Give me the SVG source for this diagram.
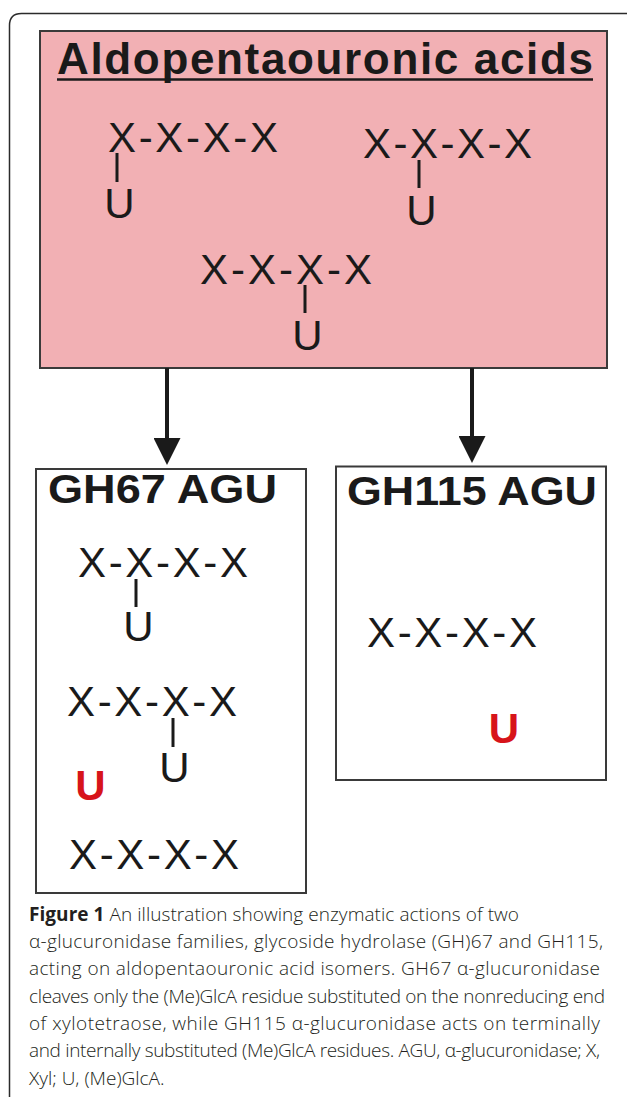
<svg xmlns="http://www.w3.org/2000/svg" width="627" height="1097" viewBox="0 0 627 1097">
  <style>
    .frame { fill: none; stroke: #2b2b2b; stroke-width: 1.5; }
    .box { fill: #ffffff; stroke: #3a3a3a; stroke-width: 2; }
    .pink { fill: #f2b0b4; stroke: #3a3a3a; stroke-width: 2; }
    .title { font-family: "Liberation Sans", Arial, sans-serif; font-weight: bold; fill: #1a1a1a; }
    .chain { font-family: "Liberation Sans", Arial, sans-serif; font-size: 42px; fill: #1a1a1a; }
    .free { font-family: "Liberation Sans", Arial, sans-serif; font-size: 42px; font-weight: bold; fill: #d7141a; text-anchor: middle; }
    .unit { text-anchor: middle; }
    .bond { stroke: #1a1a1a; stroke-width: 3; }
    .link { stroke: #1a1a1a; stroke-width: 4; fill: none; }
    .cap { font-family: "Open Sans", "Liberation Sans", sans-serif; font-size: 19px; font-weight: 300; fill: #231f20; }
    .cap .lead { font-weight: bold; }
  </style>
  <defs>
    <marker id="head" markerUnits="userSpaceOnUse" markerWidth="27" markerHeight="27" refX="0" refY="13.5" orient="auto">
      <path d="M0,0 L27,13.5 L0,27 Z" fill="#1a1a1a"/>
    </marker>
  </defs>

  <!-- outer panel frame, running off the right and bottom edges -->
  <path class="frame" d="M9.5,1097 V25.5 Q9.5,13.5 21.5,13.5 H627"/>

  <!-- substrate panel -->
  <g id="substrates">
    <rect class="pink" x="40" y="31" width="567" height="337"/>
    <text class="title" x="57" y="74" font-size="44" textLength="536" lengthAdjust="spacing">Aldopentaouronic acids</text>
    <line x1="57" y1="79.5" x2="593" y2="79.5" stroke="#1a1a1a" stroke-width="2.5"/>

    <g id="isomer-1">
      <text class="chain" x="108" y="152" textLength="170" lengthAdjust="spacing">X-X-X-X</text>
      <line class="bond" x1="117" y1="153" x2="117" y2="182"/>
      <text class="chain unit" x="119.5" y="218">U</text>
    </g>
    <g id="isomer-2">
      <text class="chain" x="363" y="158" textLength="169" lengthAdjust="spacing">X-X-X-X</text>
      <line class="bond" x1="419" y1="160" x2="419" y2="188"/>
      <text class="chain unit" x="421.5" y="225">U</text>
    </g>
    <g id="isomer-3">
      <text class="chain" x="200" y="284" textLength="172" lengthAdjust="spacing">X-X-X-X</text>
      <line class="bond" x1="305" y1="285" x2="305" y2="313"/>
      <text class="chain unit" x="307.5" y="350">U</text>
    </g>
  </g>

  <!-- connectors -->
  <g id="connectors">
    <line class="link" x1="167" y1="368" x2="167" y2="438" marker-end="url(#head)"/>
    <line class="link" x1="472" y1="368" x2="472" y2="436" marker-end="url(#head)"/>
  </g>

  <!-- GH67 products -->
  <g id="gh67">
    <rect class="box" x="36" y="469" width="270" height="424"/>
    <text class="title" x="48" y="503" font-size="40" textLength="229" lengthAdjust="spacingAndGlyphs">GH67 AGU</text>
    <text class="chain" x="78" y="577" textLength="170" lengthAdjust="spacing">X-X-X-X</text>
    <line class="bond" x1="136" y1="579" x2="136" y2="607"/>
    <text class="chain unit" x="138.5" y="641">U</text>
    <text class="chain" x="67" y="716" textLength="170" lengthAdjust="spacing">X-X-X-X</text>
    <line class="bond" x1="173" y1="718" x2="173" y2="747"/>
    <text class="chain unit" x="174.5" y="782">U</text>
    <text class="free" x="90.5" y="800">U</text>
    <text class="chain" x="69" y="869" textLength="170" lengthAdjust="spacing">X-X-X-X</text>
  </g>

  <!-- GH115 products -->
  <g id="gh115">
    <rect class="box" x="336" y="466.5" width="270" height="313.5"/>
    <text class="title" x="347" y="505" font-size="40" textLength="250" lengthAdjust="spacingAndGlyphs">GH115 AGU</text>
    <text class="chain" x="367" y="647" textLength="170" lengthAdjust="spacing">X-X-X-X</text>
    <text class="free" x="504" y="743">U</text>
  </g>

  <!-- caption -->
  <g id="caption">
    <text class="cap" x="29" y="921" textLength="490" lengthAdjust="spacing"><tspan class="lead">Figure 1</tspan> An illustration showing enzymatic actions of two</text>
    <text class="cap" x="29" y="948" textLength="574" lengthAdjust="spacing">α-glucuronidase families, glycoside hydrolase (GH)67 and GH115,</text>
    <text class="cap" x="29" y="975" textLength="571" lengthAdjust="spacing">acting on aldopentaouronic acid isomers. GH67 α-glucuronidase</text>
    <text class="cap" x="29" y="1003" textLength="576" lengthAdjust="spacing">cleaves only the (Me)GlcA residue substituted on the nonreducing end</text>
    <text class="cap" x="29" y="1030" textLength="571" lengthAdjust="spacing">of xylotetraose, while GH115 α-glucuronidase acts on terminally</text>
    <text class="cap" x="29" y="1057" textLength="571" lengthAdjust="spacing">and internally substituted (Me)GlcA residues. AGU, α-glucuronidase; X,</text>
    <text class="cap" x="29" y="1085">Xyl; U, (Me)GlcA.</text>
  </g>
</svg>
